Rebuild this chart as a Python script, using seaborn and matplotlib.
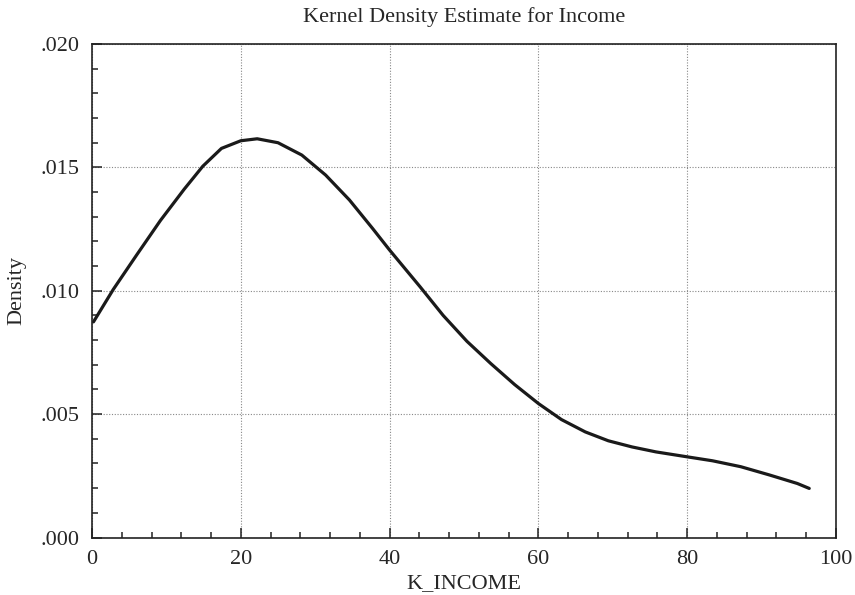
import matplotlib
matplotlib.use("Agg")
import matplotlib.pyplot as plt
import pandas as pd
import seaborn as sns
from matplotlib.ticker import FuncFormatter, MultipleLocator


# values (income in thousands, density)
income_k = [0.2, 2.85, 6.0, 9.2, 12.4, 14.9, 17.4, 20.0, 22.2, 25.0, 28.2,
            31.4, 34.6, 37.7, 40.0, 44.1, 47.2, 50.4, 53.6, 56.8, 60.0,
            63.1, 66.3, 69.4, 72.6, 75.8, 80.0, 83.4, 87.2, 91.0, 94.8, 96.4]
density = [0.00874, 0.01005, 0.01145, 0.01285, 0.01412, 0.01505, 0.01577,
           0.01608, 0.01616, 0.01600, 0.01550, 0.01469, 0.01368, 0.01253,
           0.01165, 0.01016, 0.00900, 0.00795, 0.00705, 0.00620, 0.00543,
           0.00478, 0.00428, 0.00392, 0.00367, 0.00347, 0.00327, 0.00311,
           0.00287, 0.00254, 0.00219, 0.00199]

x_ticks = [0, 20, 40, 60, 80, 100]
y_ticks = [0.000, 0.005, 0.010, 0.015, 0.020]


def no_leading_zero(v, pos):
    return f"{v:.3f}".lstrip("0")


def main():
    sns.set_style("ticks")
    plt.rcParams["font.family"] = ["Liberation Serif", "DejaVu Serif"]
    plt.rcParams["font.size"] = 16

    df = pd.DataFrame({"K_INCOME": income_k, "Density": density})

    fig = plt.figure(figsize=(8.55, 5.95), dpi=100)
    ax = fig.add_axes([0.1076, 0.0966, 0.8702, 0.8294])

    sns.lineplot(data=df, x="K_INCOME", y="Density", color="#1a1a1a",
                 linewidth=2.3, ax=ax)
    ax.lines[0].set_solid_joinstyle("round")

    ax.set_xlim(0, 100)
    ax.set_ylim(0, 0.020)
    ax.set_xticks(x_ticks)
    ax.set_yticks(y_ticks)
    ax.xaxis.set_minor_locator(MultipleLocator(4))
    ax.yaxis.set_minor_locator(MultipleLocator(0.001))
    ax.yaxis.set_major_formatter(FuncFormatter(no_leading_zero))

    ax.grid(True, which="major", linestyle=(0, (1, 1.5)), color="#888888",
            linewidth=0.8)
    ax.tick_params(which="both", direction="in", color="#222222", width=1.1,
                   labelsize=16, top=False, right=False)
    ax.tick_params(which="major", length=7, pad=9)
    ax.tick_params(which="minor", length=4)
    for side in ["left", "right", "top", "bottom"]:
        ax.spines[side].set_visible(True)
        ax.spines[side].set_color("#222222")
        ax.spines[side].set_linewidth(1.2)

    ax.set_xlabel("K_INCOME", fontsize=16, labelpad=4)
    ax.set_ylabel("Density", fontsize=16, labelpad=10)
    ax.set_title("Kernel Density Estimate for Income", fontsize=16, pad=16)

    fig.savefig("out.png", dpi=100)
    plt.close(fig)


main()
